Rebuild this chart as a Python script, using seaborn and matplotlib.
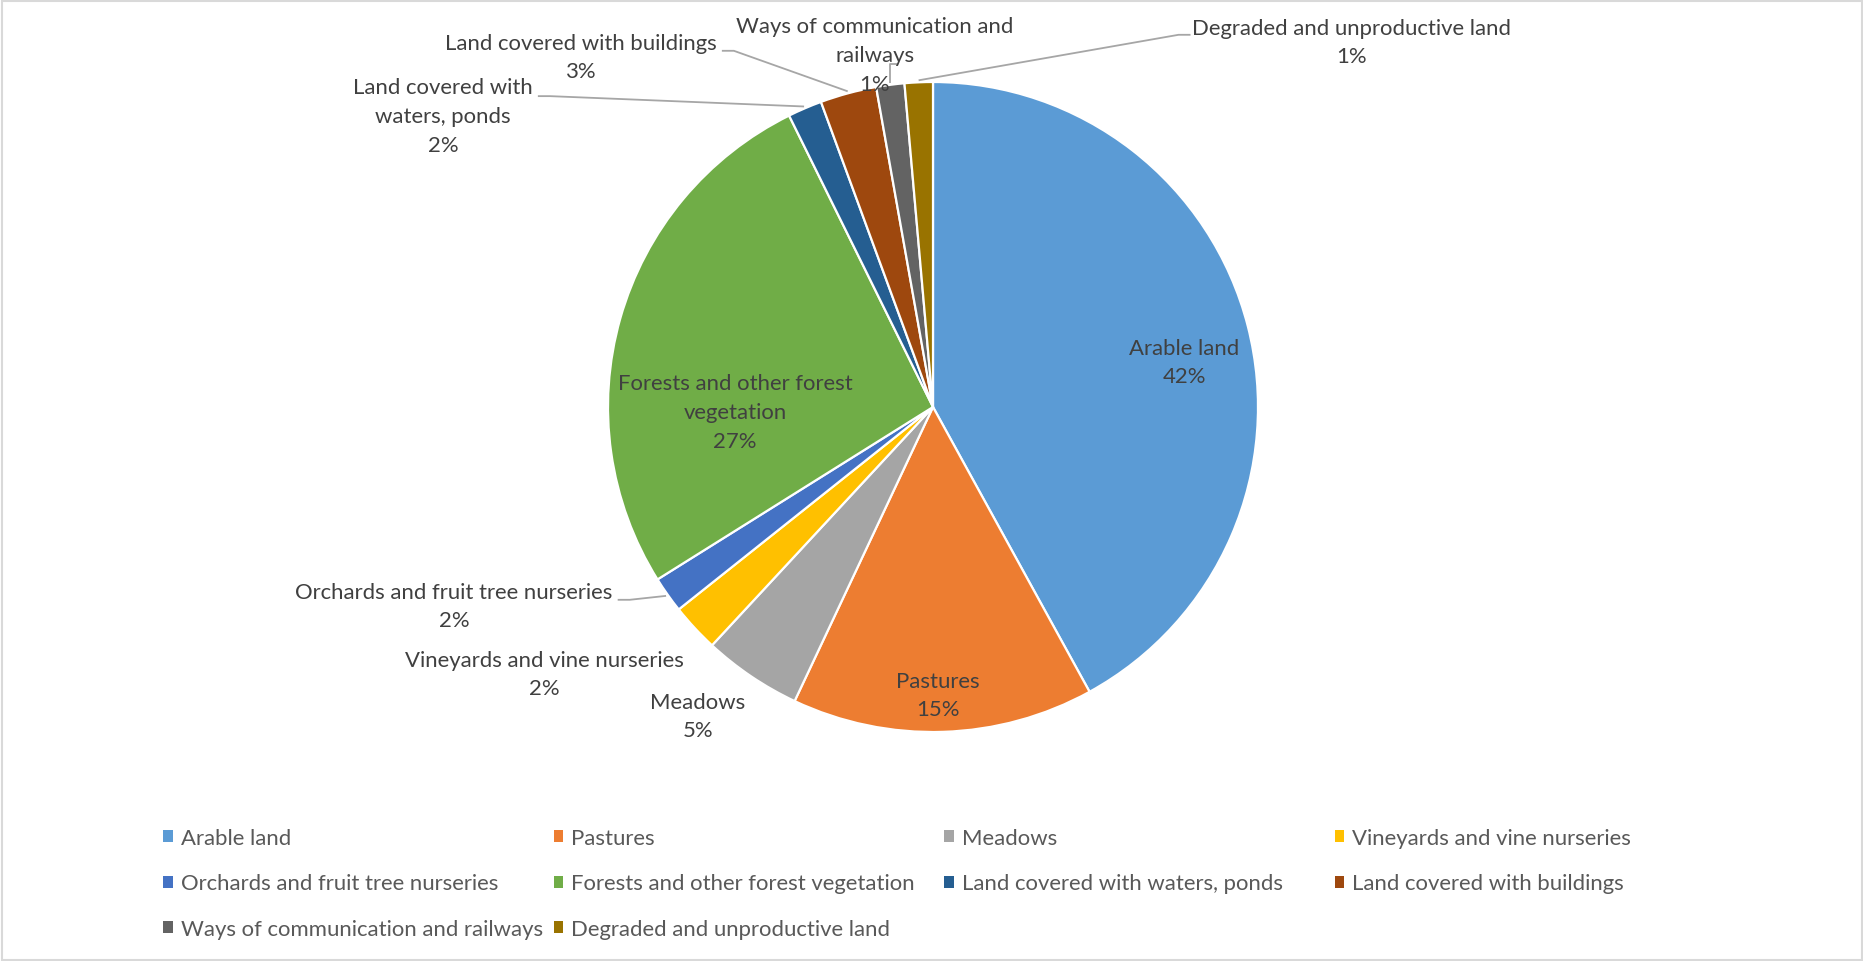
import matplotlib
matplotlib.use("Agg")
import numpy as np
import matplotlib.pyplot as plt
import seaborn as sns
from matplotlib.patches import Patch, Rectangle
from matplotlib.legend import Legend

# Land use structure (share of total area, %)
categories = [
    "Arable land",
    "Pastures",
    "Meadows",
    "Vineyards and vine nurseries",
    "Orchards and fruit tree nurseries",
    "Forests and other forest vegetation",
    "Land covered with waters, ponds",
    "Land covered with buildings",
    "Ways of communication and railways",
    "Degraded and unproductive land",
]
shares = [42.0, 15.0, 4.9, 2.4, 1.8, 26.6, 1.7, 2.8, 1.4, 1.4]
slice_names = [
    "Arable land",
    "Pastures",
    "Meadows",
    "Vineyards and vine nurseries",
    "Orchards and fruit tree nurseries",
    "Forests and other forest\nvegetation",
    "Land covered with\nwaters, ponds",
    "Land covered with buildings",
    "Ways of communication and\nrailways",
    "Degraded and unproductive land",
]
palette = ["#5B9BD5", "#ED7D31", "#A5A5A5", "#FFC000", "#4472C4",
           "#70AD47", "#255E91", "#9E480E", "#636363", "#997300"]

sns.set_theme(style="white")
plt.rcParams["font.family"] = ["Lato", "DejaVu Sans"]

W, H = 1863, 962
fig = plt.figure(figsize=(W / 100, H / 100), dpi=100)
fig.patch.set_facecolor("white")
ax = fig.add_axes([0, 0, 1, 1])

cx, cy, R = 933, H - 408, 325
colors = sns.color_palette(palette)
wedges, _ = ax.pie(shares, colors=colors, startangle=90, counterclock=False,
                   center=(cx, cy), radius=R, frame=True,
                   wedgeprops=dict(edgecolor="white", linewidth=1.6))
ax.set_xlim(0, W)
ax.set_ylim(0, H)
ax.set_aspect("equal")
ax.axis("off")

# pick a font size so the text runs as wide as the Office labels do
probe = ax.text(0, 0, "Orchards and fruit tree nurseries", fontsize=14)
fig.canvas.draw()
fs = 14 * 319 / probe.get_window_extent().width
probe.remove()

# label centres (x, distance from top) and how each one is tied to its slice
label_pos = [(1184, 363), (938, 696), (698, 717), (544, 675), (454, 607),
             (735, 413), (443, 117), (581, 58), (875, 56), (1352, 43)]
leader = [None, None, None, None, "right", None, "right", "right", "below", "left"]

total = sum(shares)
texts = []
for name, s, (x, y) in zip(slice_names, shares, label_pos):
    t = ax.text(x, H - y, f"{name}\n{round(s / total * 100):.0f}%",
                ha="center", va="center", multialignment="center",
                fontsize=fs, color="#404040", linespacing=1.55)
    texts.append(t)

fig.canvas.draw()
renderer = fig.canvas.get_renderer()
for t, w, kind in zip(texts, wedges, leader):
    if kind is None:
        continue
    bb = t.get_window_extent(renderer)
    n = t.get_text().count("\n") + 1
    lh = bb.height / n
    first = bb.y1 - lh / 2
    a = np.deg2rad((w.theta1 + w.theta2) / 2)
    wx, wy = cx + (R + 2) * np.cos(a), cy + (R + 2) * np.sin(a)
    if kind == "right":
        ya = first - 6
        pts = [(bb.x1 + 5, ya), (bb.x1 + 17, ya), (wx, wy)]
    elif kind == "left":
        ya = first - 5
        pts = [(bb.x0 - 2, ya), (bb.x0 - 14, ya), (wx, wy)]
    else:
        ya = bb.y1 - 1.5 * lh - 9
        pts = [(wx + 7, ya), (wx, ya), (wx, wy)]
    xs, ys = zip(*pts)
    ax.plot(xs, ys, color="#a6a6a6", lw=1.3, solid_capstyle="butt", zorder=1)

# legend laid out as a 4-column grid, row by row
handles = [Patch(facecolor=c, edgecolor="none") for c in colors]
for j in range(4):
    idx = list(range(j, len(categories), 4))
    leg = Legend(ax, [handles[i] for i in idx], [categories[i] for i in idx],
                 loc="upper left", bbox_to_anchor=(163 + j * 390.5, H - 829),
                 bbox_transform=ax.transData, frameon=False, borderpad=0,
                 borderaxespad=0, handlelength=0.45, handleheight=0.45,
                 handletextpad=0.35, labelspacing=1.15, fontsize=fs,
                 labelcolor="#595959")
    ax.add_artist(leg)

fig.add_artist(Rectangle((1.5 / W, 1.5 / H), 1 - 3 / W, 1 - 3 / H,
                         transform=fig.transFigure, fill=False,
                         edgecolor="#d9d9d9", lw=1.5))

fig.savefig("out.png", dpi=100, facecolor="white")
